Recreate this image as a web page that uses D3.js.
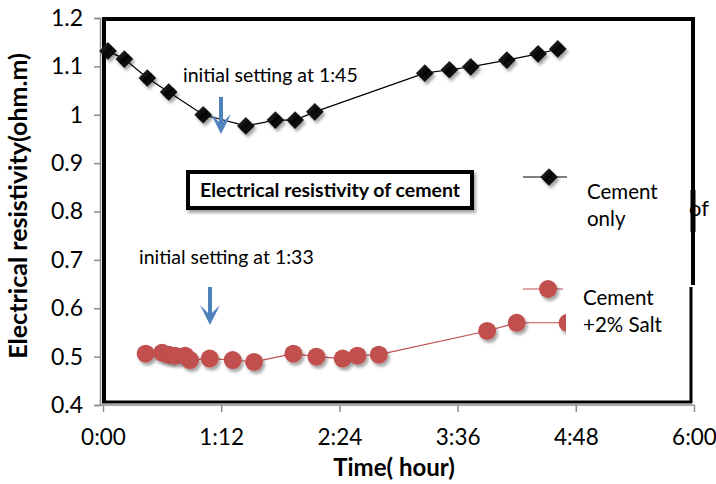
<!DOCTYPE html>
<html>
<head>
<meta charset="utf-8">
<script src="https://cdn.jsdelivr.net/npm/d3@7"></script>
<style>
  body { margin: 0; background: #fff; }
  svg { display: block; font-family: Lato, "Open Sans", sans-serif; }
</style>
</head>
<body>
<div id="chart"></div>
<script>
// time in minutes after mixing, resistivity in ohm.m
const cementMinutes = [3, 13, 27, 40, 61, 87, 105, 117, 129, 196, 211, 224, 246, 265, 277];
const cementValues = [1.132, 1.115, 1.076, 1.047, 1.0, 0.977, 0.989, 0.989, 1.006, 1.086, 1.093, 1.099, 1.113, 1.126, 1.136];
const saltMinutes = [26, 36, 40, 44, 50, 53, 65, 79, 92, 116, 130, 146, 155, 168, 234, 252, 283];
const saltValues = [0.506, 0.508, 0.504, 0.502, 0.502, 0.493, 0.496, 0.493, 0.489, 0.506, 0.500, 0.496, 0.502, 0.504, 0.553, 0.570, 0.570];
const xTicks = [0, 72, 144, 216, 288, 360];
const xTickLabels = ["0:00", "1:12", "2:24", "3:36", "4:48", "6:00"];
const yTicks = [0.4, 0.5, 0.6, 0.7, 0.8, 0.9, 1, 1.1, 1.2];
const seriesNames = [["Cement", "only"], ["Cement", "+2% Salt"]];

const width = 716, height = 484;
const svg = d3.select("#chart").append("svg")
    .attr("width", width)
    .attr("height", height);

const defs = svg.append("defs");
const shadow = defs.append("filter").attr("id", "shadow")
    .attr("x", "-50%").attr("y", "-50%").attr("width", "200%").attr("height", "200%");
shadow.append("feDropShadow")
    .attr("dx", 2).attr("dy", 3).attr("stdDeviation", 1.8)
    .attr("flood-color", "#000").attr("flood-opacity", 0.35);
const grad = defs.append("linearGradient").attr("id", "dia")
    .attr("x1", 0).attr("y1", 0).attr("x2", 1).attr("y2", 1);
grad.append("stop").attr("offset", "0%").attr("stop-color", "#3a3a3a");
grad.append("stop").attr("offset", "50%").attr("stop-color", "#050505");
grad.append("stop").attr("offset", "100%").attr("stop-color", "#1a1a1a");

const x = d3.scaleLinear().domain([0, 360]).range([103, 694]);
const y = d3.scaleLinear().domain([0.4, 1.2]).range([405, 18]);

// axes (gray lines with outward ticks)
const xAxis = svg.append("g")
    .attr("transform", "translate(0,405)")
    .call(d3.axisBottom(x).tickValues(xTicks).tickSize(7).tickPadding(17)
      .tickFormat((d, i) => xTickLabels[i]));
const yAxis = svg.append("g")
    .attr("transform", "translate(100,0)")
    .call(d3.axisLeft(y).tickValues(yTicks).tickSize(6).tickPadding(11)
      .tickFormat(d3.format("")));
[xAxis, yAxis].forEach(g => {
  g.select(".domain").attr("stroke", "#8c8c8c").attr("stroke-width", 1.5);
  g.selectAll(".tick line").attr("stroke", "#8c8c8c").attr("stroke-width", 1.5);
  g.selectAll(".tick text").attr("fill", "#000")
    .style("font-family", "Lato, sans-serif");
});
xAxis.selectAll(".tick text").style("font-size", "22.5px");
yAxis.selectAll(".tick text").style("font-size", "23px");
xAxis.select(".domain").attr("d", "M100,0H694");

// stray text half hidden behind the frame
svg.append("text").attr("x", 689).attr("y", 216)
    .style("font-size", "22px").text("of");

// plot frame
svg.append("path")
    .attr("d", "M104,402V19H693V285")
    .attr("fill", "none").attr("stroke", "#000").attr("stroke-width", 4);
svg.append("path")
    .attr("d", "M691,287V403M102,402H692")
    .attr("fill", "none").attr("stroke", "#000").attr("stroke-width", 3);
svg.append("line").attr("x1", 693).attr("x2", 693).attr("y1", 190).attr("y2", 232)
    .attr("stroke", "#000").attr("stroke-width", 5);

// series
const cement = cementMinutes.map((t, i) => ({t, v: cementValues[i]}));
const salt = saltMinutes.map((t, i) => ({t, v: saltValues[i]}));
const line = d3.line().x(d => x(d.t)).y(d => y(d.v));

svg.append("path").datum(salt)
    .attr("d", line).attr("fill", "none")
    .attr("stroke", "#c0504d").attr("stroke-width", 1.2);
svg.append("g").selectAll("circle")
    .data(salt).enter().append("circle")
    .attr("cx", d => x(d.t)).attr("cy", d => y(d.v)).attr("r", 9)
    .attr("fill", "#c0504d").attr("filter", "url(#shadow)");

svg.append("path").datum(cement)
    .attr("d", line).attr("fill", "none")
    .attr("stroke", "#000").attr("stroke-width", 1.2);
const diamond = d3.symbol().type(d3.symbolDiamond2).size(200);
svg.append("g").selectAll("path")
    .data(cement).enter().append("path")
    .attr("d", diamond)
    .attr("transform", d => "translate(" + x(d.t) + "," + y(d.v) + ")")
    .attr("fill", "url(#dia)").attr("filter", "url(#shadow)");

// legend
svg.append("rect").attr("x", 566).attr("y", 160).attr("width", 122).attr("height", 185)
    .attr("fill", "#fff");
const lg = svg.append("g");
lg.append("line").attr("x1", 523).attr("x2", 567).attr("y1", 177).attr("y2", 177)
    .attr("stroke", "#000").attr("stroke-width", 1.2);
lg.append("path").attr("d", diamond).attr("transform", "translate(549,177)")
    .attr("fill", "url(#dia)").attr("filter", "url(#shadow)");
lg.append("line").attr("x1", 523).attr("x2", 563).attr("y1", 289).attr("y2", 289)
    .attr("stroke", "#c0504d").attr("stroke-width", 1.2);
lg.append("circle").attr("cx", 548).attr("cy", 289).attr("r", 9)
    .attr("fill", "#c0504d").attr("filter", "url(#shadow)");
[[587, 199], [583, 305]].forEach((p, i) => {
  const t = lg.append("text").attr("x", p[0]).attr("y", p[1]).style("font-size", "20.5px");
  t.append("tspan").attr("x", p[0]).text(seriesNames[i][0]);
  t.append("tspan").attr("x", p[0]).attr("dy", 27).text(seriesNames[i][1]);
});

// title box
svg.append("rect").attr("x", 188).attr("y", 172).attr("width", 284).attr("height", 36)
    .attr("fill", "#fff").attr("stroke", "#000").attr("stroke-width", 4)
    .attr("filter", "url(#shadow)");
svg.append("text").attr("x", 330).attr("y", 197).attr("text-anchor", "middle")
    .style("font-size", "19.5px").style("font-weight", "bold")
    .text("Electrical resistivity of cement");

// setting annotations
svg.append("text").attr("x", 183).attr("y", 82).style("font-size", "19.5px")
    .text("initial setting at 1:45");
svg.append("text").attr("x", 139).attr("y", 264).style("font-size", "19.5px")
    .text("initial setting at 1:33");
const arrow = (cx, top, tip) => {
  svg.append("path")
    .attr("d", `M${cx - 2},${top}H${cx + 2}V${tip - 12}L${cx + 10},${tip - 20}L${cx + 2},${tip - 4}L${cx},${tip}L${cx - 2},${tip - 4}L${cx - 10},${tip - 20}L${cx - 2},${tip - 12}Z`)
    .attr("fill", "#4f81bd");
};
arrow(221, 97, 134);
arrow(210, 287, 325);

// axis titles
svg.append("text").attr("x", 394).attr("y", 476).attr("text-anchor", "middle")
    .style("font-size", "24px").style("font-weight", "bold").text("Time( hour)");
svg.append("text").attr("transform", "translate(27,206) rotate(-90)")
    .attr("text-anchor", "middle")
    .style("font-size", "25px").style("font-weight", "bold")
    .text("Electrical resistivity(ohm.m)");
</script>
</body>
</html>
